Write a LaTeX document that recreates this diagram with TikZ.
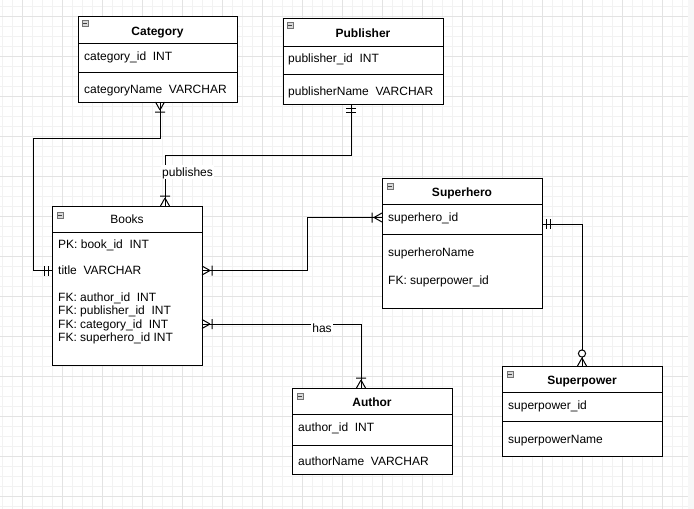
\documentclass[tikz,border=0pt]{standalone}
\usepackage{fontspec}
\setmainfont{Liberation Sans}
\begin{document}
\begin{tikzpicture}[x=1pt,y=-1pt,
  font=\fontsize{12}{14}\selectfont,
  minorgrid/.style={draw=black!5, line width=0.6pt},
  majorgrid/.style={draw=black!11, line width=0.8pt},
  entity/.style={draw=black, fill=white, line width=1pt, anchor=north west, outer sep=0pt, inner sep=0pt},
  sepline/.style={draw=black, line width=1pt},
  txt/.style={inner sep=0pt, text height=8.6pt, text depth=0pt},
  attr/.style={txt, anchor=west, text=black},
  etitle/.style={txt, font=\fontsize{12}{14}\selectfont\bfseries},
  link/.style={draw=black, line width=1pt},
  lbl/.style={txt, fill=white, inner xsep=1pt, inner ysep=3pt},
  tick/.style={draw=black, line width=1pt},
  minusicon/.pic={
    \draw[draw=black!55, fill=black!15, line width=0.6pt] (0,0) rectangle (6,6);
    \draw[black!75, line width=0.8pt] (1.3,3) -- (4.7,3);
  },
  onemany/.pic={
    \draw[tick] (8,0) -- (0,4.5) (8,0) -- (0,-4.5) (10,-5) -- (10,5);
  },
  mandone/.pic={
    \draw[tick] (4,-5) -- (4,5) (8,-5) -- (8,5);
  },
  zeromany/.pic={
    \draw[tick] (8,0) -- (0,4.5) (8,0) -- (0,-4.5);
    \draw[tick, fill=white] (12.5,0) circle (3.6);
  }
]
\useasboundingbox (0,0) rectangle (694,509);
\fill[white] (0,0) rectangle (694,509);

% background grid
\foreach \i in {0,...,68} \draw[minorgrid] (2+10*\i,0) -- (2+10*\i,509);
\foreach \j in {0,...,50} \draw[minorgrid] (0,6+10*\j) -- (688,6+10*\j);
\foreach \i in {0,...,16} \draw[majorgrid] (22+40*\i,0) -- (22+40*\i,509);
\foreach \j in {0,...,12} \draw[majorgrid] (0,16+40*\j) -- (688,16+40*\j);
\fill[black!3] (688,0) rectangle (694,509);

% ---------- Category ----------
\node[entity, minimum width=159, minimum height=86] (cat) at (78,16) {};
\draw[sepline] (78,43) -- (237,43);
\draw[sepline] (78,72) -- (237,72);
\pic at (82,20) {minusicon};
\node[etitle] (catT) at (157.5,31) {Category};
\node[attr] (catA1) at (84,56) {category\_id~~INT};
\node[attr] (catA2) at (84,89.5) {categoryName~~VARCHAR};

% ---------- Publisher ----------
\node[entity, minimum width=160, minimum height=86] (pub) at (283,18) {};
\draw[sepline] (283,46) -- (443,46);
\draw[sepline] (283,74) -- (443,74);
\pic at (287,22) {minusicon};
\node[etitle] (pubT) at (363,33) {Publisher};
\node[attr] (pubA1) at (288,58) {publisher\_id~~INT};
\node[attr] (pubA2) at (288,91) {publisherName~~VARCHAR};

% ---------- Books ----------
\node[entity, minimum width=150, minimum height=159] (books) at (52,206) {};
\draw[sepline] (52,232) -- (202,232);
\pic at (57,212) {minusicon};
\node[txt, text=black] (booksT) at (127,219) {Books};
\node[attr] (bA1) at (58,244) {PK: book\_id~~INT};
\node[attr] (bA2) at (58,270.5) {title~~VARCHAR};
\node[attr] (bA3) at (58,297) {FK: author\_id~~INT};
\node[attr] (bA4) at (58,310.5) {FK: publisher\_id~~INT};
\node[attr] (bA5) at (58,324) {FK: category\_id~~INT};
\node[attr] (bA6) at (58,337.5) {FK: superhero\_id INT};

% ---------- Superhero ----------
\node[entity, minimum width=160, minimum height=130] (hero) at (382,178) {};
\draw[sepline] (382,204) -- (542,204);
\draw[sepline] (382,234) -- (542,234);
\pic at (387,183) {minusicon};
\node[etitle] (heroT) at (462,192.5) {Superhero};
\node[attr] (hA1) at (388,217.5) {superhero\_id};
\node[attr] (hA2) at (388,252) {superheroName};
\node[attr] (hA3) at (388,280) {FK: superpower\_id};

% ---------- Author ----------
\node[entity, minimum width=160, minimum height=86] (auth) at (292,388) {};
\draw[sepline] (292,414) -- (452,414);
\draw[sepline] (292,445) -- (452,445);
\pic at (297,393) {minusicon};
\node[etitle] (authT) at (372,402) {Author};
\node[attr] (aA1) at (298,427.5) {author\_id~~INT};
\node[attr] (aA2) at (298,461.5) {authorName~~VARCHAR};

% ---------- Superpower ----------
\node[entity, minimum width=160, minimum height=90] (power) at (502,366) {};
\draw[sepline] (502,392) -- (662,392);
\draw[sepline] (502,421) -- (662,421);
\pic at (507,371) {minusicon};
\node[etitle] (powT) at (582,380) {Superpower};
\node[attr] (pA1) at (508,405) {superpower\_id};
\node[attr] (pA2) at (508,439) {superpowerName};

% ---------- relationships ----------
% Category -- Books
\coordinate (catOut) at ([xshift=2.5pt]cat.south);
\coordinate (catBend1) at (33,138);
\coordinate (booksTitleW) at (books.west |- bA2);
\draw[link] (catOut) |- (catBend1) |- (booksTitleW);
\pic[rotate=-90] at (catOut) {onemany};
\pic[rotate=180] at (booksTitleW) {mandone};

% Publisher -- Books
\coordinate (pubOut) at ([xshift=-12pt]pub.south);
\coordinate (booksTopIn) at ([xshift=38pt]books.north);
\coordinate (pubBend) at (165,155);
\draw[link] (pubOut) |- (pubBend) -- (booksTopIn);
\pic[rotate=-90] at (pubOut) {mandone};
\pic[rotate=90] at (booksTopIn) {onemany};
\node[lbl, anchor=west] (pubLbl) at (161,172) {publishes};

% Books -- Superhero
\coordinate (booksHeroOut) at (books.east |- bA2);
\coordinate (heroIn) at (hero.west |- hA1);
\coordinate (heroBend) at (307,217.5);
\draw[link] (booksHeroOut) -| (heroBend) -- (heroIn);
\pic at (booksHeroOut) {onemany};
\pic[rotate=180] at (heroIn) {onemany};

% Books -- Author
\coordinate (booksAuthOut) at (books.east |- bA5);
\coordinate (authIn) at ([xshift=-11pt]auth.north);
\draw[link] (booksAuthOut) -| (authIn);
\pic at (booksAuthOut) {onemany};
\pic[rotate=90] at (authIn) {onemany};
\node[lbl] (hasLbl) at (322,328) {has};

% Superhero -- Superpower
\coordinate (heroOut) at ([yshift=-6.5pt]hero.east |- hA1);
\draw[link] (heroOut) -| (power.north);
\pic at (heroOut) {mandone};
\pic[rotate=90] at (power.north) {zeromany};
\end{tikzpicture}
\end{document}
